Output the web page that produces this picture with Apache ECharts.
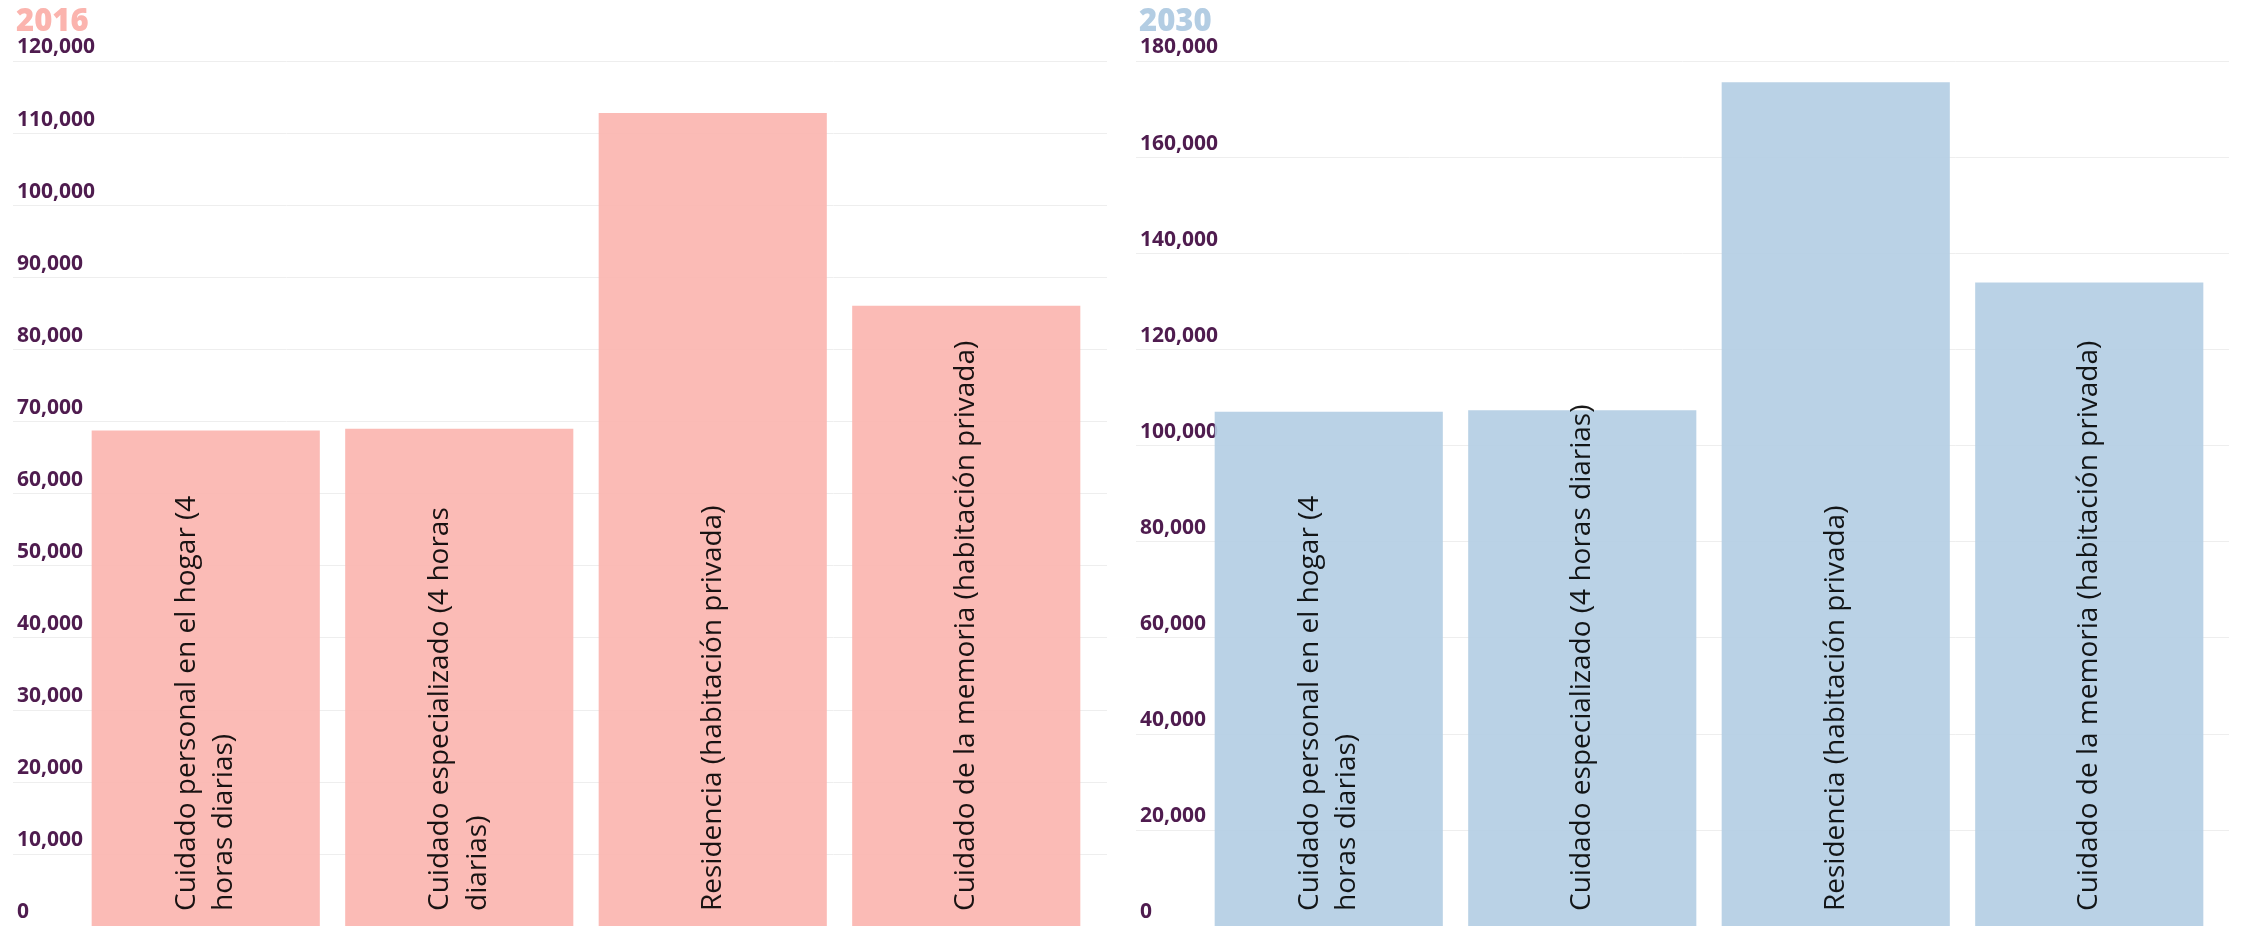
<!DOCTYPE html>
<html>
<head>
<meta charset="utf-8">
<script src="https://cdn.jsdelivr.net/npm/echarts@6/dist/echarts.min.js"></script>
<style>
html,body{margin:0;padding:0;background:#fff;}
#c{width:2244px;height:926px;}
</style>
</head>
<body>
<div id="c"></div>
<script>
const title2016 = "2016";
const title2030 = "2030";
const cats2016 = [
  "Cuidado personal en el hogar (4\nhoras diarias)",
  "Cuidado especializado (4 horas\ndiarias)",
  "Residencia (habitación privada)",
  "Cuidado de la memoria (habitación privada)"
];
const vals2016 = [68750, 69000, 112800, 86050];
const cats2030 = [
  "Cuidado personal en el hogar (4\nhoras diarias)",
  "Cuidado especializado (4 horas diarias)",
  "Residencia (habitación privada)",
  "Cuidado de la memoria (habitación privada)"
];
const vals2030 = [107000, 107300, 175600, 133900];
const yMax2016 = 120000, yStep2016 = 10000;
const yMax2030 = 180000, yStep2030 = 20000;

const chart = echarts.init(document.getElementById('c'), null, {renderer: 'canvas'});
const fmt = v => Number(v).toLocaleString('en-US');

function labelAxis(gridIndex, max, step) {
  return {
    type: 'value', gridIndex, min: 0, max, interval: step,
    axisLine: {show: false}, axisTick: {show: false},
    splitLine: {show: true, lineStyle: {color: '#eeeeee', width: 1}},
    axisLabel: {
      inside: true, margin: 4, align: 'left', verticalAlign: 'bottom',
      padding: [0, 0, 3, 0],
      formatter: fmt, color: '#4f1c4f',
      fontFamily: 'Open Sans', fontWeight: 700, fontSize: 21
    },
    z: 1
  };
}
function hiddenValAxis(gridIndex, max, step) {
  return {type: 'value', gridIndex, min: 0, max, interval: step, show: false, splitLine: {show: false}};
}
const barLabel = {
  show: true, position: 'insideBottom', rotate: 90, align: 'left', verticalAlign: 'middle',
  distance: 15, formatter: p => p.name, color: '#000',
  fontFamily: 'Open Sans', fontSize: 28, lineHeight: 37.5
};

chart.setOption({
  animation: false,
  backgroundColor: '#ffffff',
  title: [
    {text: title2016, left: 11, top: 2, textStyle: {color: '#fbb4ae', fontFamily: 'Open Sans', fontWeight: 800, fontSize: 31}},
    {text: title2030, left: 1134, top: 2, textStyle: {color: '#b3cde3', fontFamily: 'Open Sans', fontWeight: 800, fontSize: 31}}
  ],
  grid: [
    {left: 13, right: 1137, top: 61, bottom: -1},
    {left: 79, right: 1151, top: 61, bottom: -1},
    {left: 1136, right: 15, top: 61, bottom: -1},
    {left: 1202, right: 28, top: 61, bottom: -1}
  ],
  xAxis: [
    {type: 'category', gridIndex: 0, data: cats2016, show: false},
    {type: 'category', gridIndex: 1, data: cats2016, show: false},
    {type: 'category', gridIndex: 2, data: cats2030, show: false},
    {type: 'category', gridIndex: 3, data: cats2030, show: false}
  ],
  yAxis: [
    labelAxis(0, yMax2016, yStep2016),
    hiddenValAxis(1, yMax2016, yStep2016),
    labelAxis(2, yMax2030, yStep2030),
    hiddenValAxis(3, yMax2030, yStep2030)
  ],
  series: [
    {type: 'bar', xAxisIndex: 1, yAxisIndex: 1, data: vals2016, barCategoryGap: '10%',
     itemStyle: {color: '#fbb4ae', opacity: 0.9}, label: barLabel, z: 3},
    {type: 'bar', xAxisIndex: 3, yAxisIndex: 3, data: vals2030, barCategoryGap: '10%',
     itemStyle: {color: '#b3cde3', opacity: 0.9}, label: barLabel, z: 3}
  ]
});
</script>
</body>
</html>
